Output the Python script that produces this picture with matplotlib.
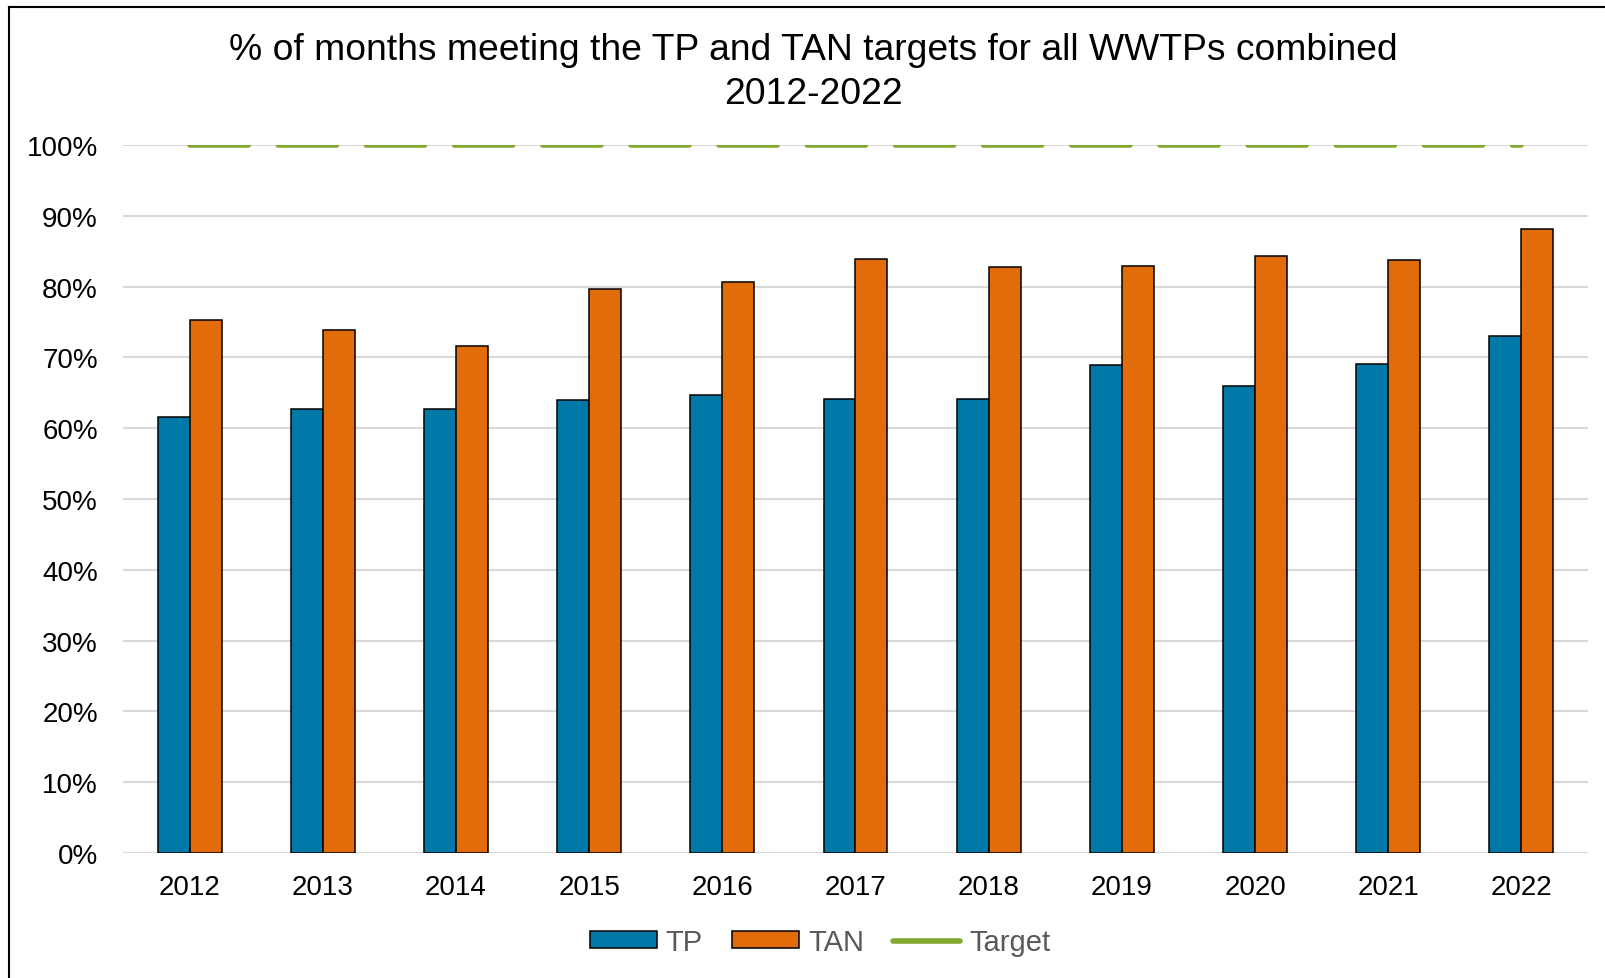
import numpy as np
import matplotlib
matplotlib.use("Agg")
import matplotlib.pyplot as plt
from matplotlib.lines import Line2D
from matplotlib.patches import Patch
from matplotlib.ticker import PercentFormatter

plt.rcParams['font.family'] = ['Liberation Sans', 'DejaVu Sans']

# data
years = ['2012', '2013', '2014', '2015', '2016', '2017', '2018', '2019', '2020', '2021', '2022']
tp = [61.6, 62.7, 62.7, 64.0, 64.7, 64.1, 64.1, 68.9, 66.0, 69.0, 73.0]
tan = [75.3, 73.9, 71.6, 79.7, 80.6, 83.9, 82.7, 82.9, 84.3, 83.7, 88.2]
target = [100] * len(years)

blue = '#0078A8'
orange = '#E26C09'
green = '#80AB30'

fig = plt.figure(figsize=(16.06, 9.79), dpi=100)
ax = fig.add_axes([123 / 1606, 1 - 854 / 979, (1588 - 123) / 1606, (854 - 146) / 979])

x = np.arange(len(years))
w = 0.24
ax.bar(x - w / 2, tp, w, color=blue, edgecolor='black', linewidth=1.1, zorder=3)
ax.bar(x + w / 2, tan, w, color=orange, edgecolor='black', linewidth=1.1, zorder=3)
ax.plot(x, target, color=green, linewidth=4.0, dashes=(10.5, 5.37),
        dash_capstyle='round', zorder=4)

ax.set_xlim(-0.5, len(years) - 0.5)
ax.set_ylim(0, 100)
ax.set_yticks(np.arange(0, 101, 10))
ax.yaxis.set_major_formatter(PercentFormatter(decimals=0))
ax.set_xticks(x)
ax.set_xticklabels(years)
ax.tick_params(axis='both', length=0, labelsize=20, colors='black')
ax.tick_params(axis='x', pad=15)
ax.tick_params(axis='y', pad=18)
ax.grid(axis='y', color='#D9D9D9', linewidth=1.5, zorder=0)
ax.set_axisbelow(True)
for s in ax.spines.values():
    s.set_visible(False)

fig.text(813 / 1606, 1 - 51 / 979, '% of months meeting the TP and TAN targets for all WWTPs combined',
         ha='center', va='center', fontsize=26.8)
fig.text(813 / 1606, 1 - 95 / 979, '2012-2022', ha='center', va='center', fontsize=26.8)

handles = [Patch(facecolor=blue, edgecolor='black', linewidth=1.1),
           Patch(facecolor=orange, edgecolor='black', linewidth=1.1),
           Line2D([], [], color=green, linewidth=4.0, solid_capstyle='round')]
leg = fig.legend(handles, ['TP', 'TAN', 'Target'], loc='center',
                 bbox_to_anchor=(820 / 1606, 1 - 943 / 979), ncol=3, frameon=False,
                 fontsize=21, handlelength=2.3, handleheight=0.5, handletextpad=0.3,
                 columnspacing=1.0)
for t in leg.get_texts():
    t.set_color('#595959')

# chart border (left and top visible)
fig.add_artist(Line2D([9.5 / 1606, 9.5 / 1606], [0, 1 - 7.5 / 979], color='black', linewidth=1.5))
fig.add_artist(Line2D([9.5 / 1606, 1], [1 - 7.5 / 979, 1 - 7.5 / 979], color='black', linewidth=1.5))

fig.savefig('out.png', dpi=100)
